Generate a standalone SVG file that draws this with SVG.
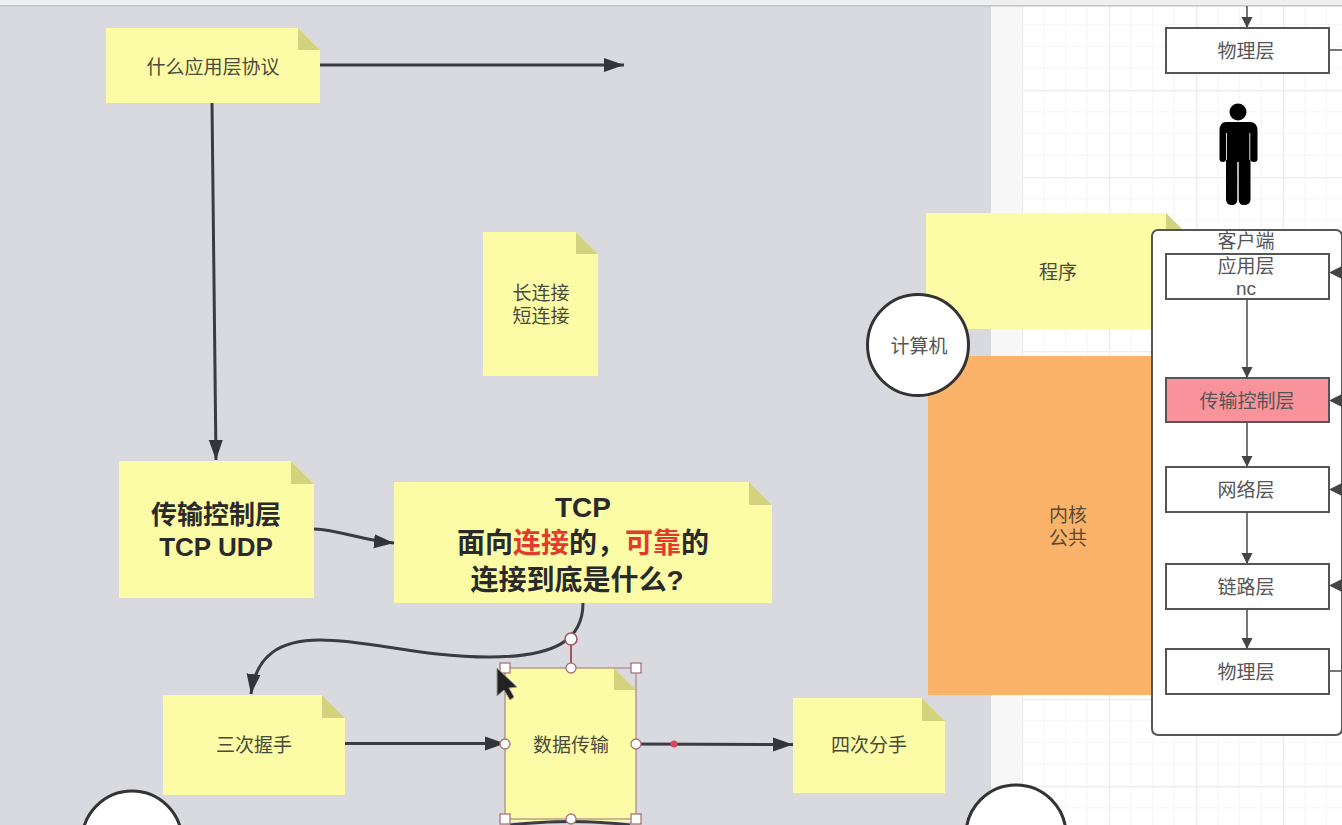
<svg xmlns="http://www.w3.org/2000/svg" width="1342" height="825" viewBox="0 0 1342 825">
<style>
text{font-family:"Liberation Sans","Noto Sans CJK SC",sans-serif;text-anchor:middle;fill:#444}
.t{font-size:19px;fill:#4a4a3c}
.l{font-size:19px;fill:#555}
.b{font-size:26px;font-weight:bold;fill:#2a2a2a}
.c{font-size:28px;font-weight:bold;fill:#2a2a2a}
.note{fill:#fdfca6}
.fold{fill:#d3d27f}
.box{fill:#fff;stroke:#555;stroke-width:2}
.con{fill:none;stroke:#3a3c42;stroke-width:3}
.thin{fill:none;stroke:#555;stroke-width:1.6}
.circ{fill:#fff;stroke:#333;stroke-width:3}
.h{fill:#fff;stroke:#a8737a;stroke-width:1.3}
</style>
<defs>
<pattern id="grid" patternUnits="userSpaceOnUse" x="1022" y="3" width="87" height="87">
<rect width="87" height="87" fill="#fff"/>
<path d="M21.75 0V87M43.5 0V87M65.25 0V87M0 21.75H87M0 43.5H87M0 65.25H87" stroke="#f6f6f6" stroke-width="1" fill="none"/>
<path d="M0.5 0V87M0 0.5H87" stroke="#ececec" stroke-width="1.5" fill="none"/>
</pattern>
<marker id="a" markerUnits="userSpaceOnUse" markerWidth="22" markerHeight="16" refX="20" refY="8" orient="auto"><path d="M0 1L20 8L0 15Z" fill="#33353a"/></marker>
<marker id="s" markerUnits="userSpaceOnUse" markerWidth="14" markerHeight="14" refX="11" refY="6" orient="auto"><path d="M0 0.500L11 6L0 11.500Z" fill="#444"/></marker>
</defs>
<rect id="canvas" width="1342" height="825" fill="#fff"/>
<rect x="0" y="0" width="991" height="825" fill="#d9dadf"/>
<rect x="991" y="0" width="31" height="825" fill="#f7f7f8"/>
<rect x="1022" y="0" width="320" height="825" fill="url(#grid)"/>
<rect x="0" y="0" width="1342" height="6" fill="#efefef"/>
<rect x="0" y="5" width="1342" height="1.5" fill="#c4c4c8"/>

<g id="n-app"><path class="note" d="M106 28H298L320 50V103H106Z"/><path class="fold" d="M298 28L320 50H298Z"/><text class="t" x="213" y="74">什么应用层协议</text></g>
<g id="n-long"><path class="note" d="M483 232H576L598 254V376H483Z"/><path class="fold" d="M576 232L598 254H576Z"/><text class="t" x="541" y="300">长连接</text><text class="t" x="541" y="323">短连接</text></g>
<g id="n-transport"><path class="note" d="M119 461H291L314 484V598H119Z"/><path class="fold" d="M291 461L314 484H291Z"/><text class="b" x="216" y="524">传输控制层</text><text class="b" x="216" y="556">TCP UDP</text></g>
<g id="n-tcp"><path class="note" d="M394 482H749L772 505V603H394Z"/><path class="fold" d="M749 482L772 505H749Z"/><text class="c" x="583" y="517">TCP</text><text class="c" x="583" y="553">面向<tspan fill="#e23b2e">连接</tspan>的，<tspan fill="#e23b2e">可靠</tspan>的</text><text class="c" x="577" y="590">连接到底是什么?</text></g>
<g id="n-shake"><path class="note" d="M163 695H322L345 718V795H163Z"/><path class="fold" d="M322 695L345 718H322Z"/><text class="t" x="254" y="752">三次握手</text></g>
<g id="n-data"><path class="note" d="M505 668H614L636 690V822H505Z"/><path class="fold" d="M614 668L636 690H614Z"/><text class="t" x="571" y="752">数据传输</text></g>
<g id="n-bye"><path class="note" d="M793 698H922L945 721V793H793Z"/><path class="fold" d="M922 698L945 721H922Z"/><text class="t" x="869" y="752">四次分手</text></g>
<g id="n-program"><path class="note" d="M926 213H1166L1190 237V329H926Z"/><path class="fold" d="M1166 213L1190 237H1166Z"/><text class="t" x="1058" y="279">程序</text></g>
<g id="n-kernel"><rect x="928" y="356" width="240" height="339" fill="#fab368"/><text class="l" x="1068" y="522" style="fill:#5a4a35">内核</text><text class="l" x="1068" y="545" style="fill:#5a4a35">公共</text></g>
<g id="n-computer"><circle class="circ" cx="918" cy="345" r="50.5"/><text class="l" x="919" y="353">计算机</text></g>
<g id="n-c1"><circle class="circ" cx="132" cy="841" r="50"/></g>
<g id="n-c2"><circle class="circ" cx="1016" cy="835" r="50"/></g>

<g id="n-client"><rect x="1152" y="230" width="190" height="505" rx="6" fill="#fff" stroke="#555" stroke-width="2"/><text class="l" x="1246" y="248">客户端</text></g>
<g id="n-phys-top"><rect class="box" x="1166" y="28" width="163" height="45"/><text class="l" x="1246" y="58">物理层</text></g>
<g id="n-person"><circle cx="1238" cy="112" r="8.5" fill="#000"/><path fill="#000" d="M1226 122H1250Q1257 122 1257.500 130V159Q1257.500 162 1254 162Q1251 162 1250.500 160V200Q1250 205 1244 205Q1239 205 1238.700 200V162H1237.300V200Q1237 205 1232 205Q1226.500 205 1226 200V160Q1225.500 162 1223 162Q1219.500 162 1219.500 159V130Q1220 122 1226 122Z"/><path d="M1226.500 133V160M1249.800 133V160" stroke="#d9d9d9" stroke-width="1" fill="none"/></g>
<g id="n-l5"><rect class="box" x="1166" y="254" width="163" height="45"/><text class="l" x="1246" y="273">应用层</text><text class="l" x="1246" y="295">nc</text></g>
<g id="n-l4"><rect x="1166" y="378" width="163" height="44" fill="#f8939b" stroke="#555" stroke-width="2"/><text class="l" x="1247" y="408">传输控制层</text></g>
<g id="n-l3"><rect class="box" x="1166" y="467" width="163" height="45"/><text class="l" x="1246" y="497">网络层</text></g>
<g id="n-l2"><rect class="box" x="1166" y="564" width="163" height="45"/><text class="l" x="1246" y="594">链路层</text></g>
<g id="n-l1"><rect class="box" x="1166" y="649" width="163" height="45"/><text class="l" x="1246" y="679">物理层</text></g>

<g id="connectors">
<path class="con" d="M320 65H624" marker-end="url(#a)"/>
<path class="con" d="M212 103L216 460" marker-end="url(#a)"/>
<path class="con" d="M314 529C340 530 360 540 394 543" marker-end="url(#a)"/>
<path class="con" d="M583 603C583 640 555 657 490 657C420 657 370 640 320 640C280 640 256 655 251 694" marker-end="url(#a)"/>
<path class="con" d="M345 743.500H505" marker-end="url(#a)"/>
<path class="con" d="M636 744L793 744.500" marker-end="url(#a)"/>
<path class="con" d="M510 825Q571 818 630 825"/>
<path class="thin" d="M1247 6V28" marker-end="url(#s)"/>
<path class="thin" d="M1247 299V378" marker-end="url(#s)"/>
<path class="thin" d="M1247 422V467" marker-end="url(#s)"/>
<path class="thin" d="M1247 512V564" marker-end="url(#s)"/>
<path class="thin" d="M1247 609V649" marker-end="url(#s)"/>
<path class="thin" d="M1329 50H1342"/>
<path class="thin" d="M1329 671H1342"/>
<path fill="#444" d="M1342 266L1329 272.500L1342 279Z"/>
<path fill="#444" d="M1342 394L1329 400.500L1342 407Z"/>
<path fill="#444" d="M1342 483L1329 489.500L1342 496Z"/>
<path fill="#444" d="M1342 579L1329 585.500L1342 592Z"/>
</g>

<g id="selection">
<rect x="505" y="668" width="131" height="151" fill="none" stroke="#b38088" stroke-width="1.2"/>
<path d="M571 639V668" fill="none" stroke="#a5555f" stroke-width="2"/>
<circle cx="571" cy="639" r="6" fill="#fff" stroke="#a5555f" stroke-width="1.6"/>
<rect class="h" x="500" y="663" width="10" height="10"/><rect class="h" x="631" y="663" width="10" height="10"/><rect class="h" x="500" y="814" width="10" height="10"/><rect class="h" x="631" y="814" width="10" height="10"/>
<circle class="h" cx="571" cy="668" r="5"/><circle class="h" cx="505" cy="744" r="5"/><circle class="h" cx="636" cy="744" r="5"/><circle class="h" cx="571" cy="819" r="5"/>
<circle cx="674" cy="744" r="3.500" fill="#d9485a"/>
<path d="M497 668V696L504 690L510 700L514 697L509 688L517 687Z" fill="#222" stroke="#999" stroke-width="1"/>
</g>
</svg>
